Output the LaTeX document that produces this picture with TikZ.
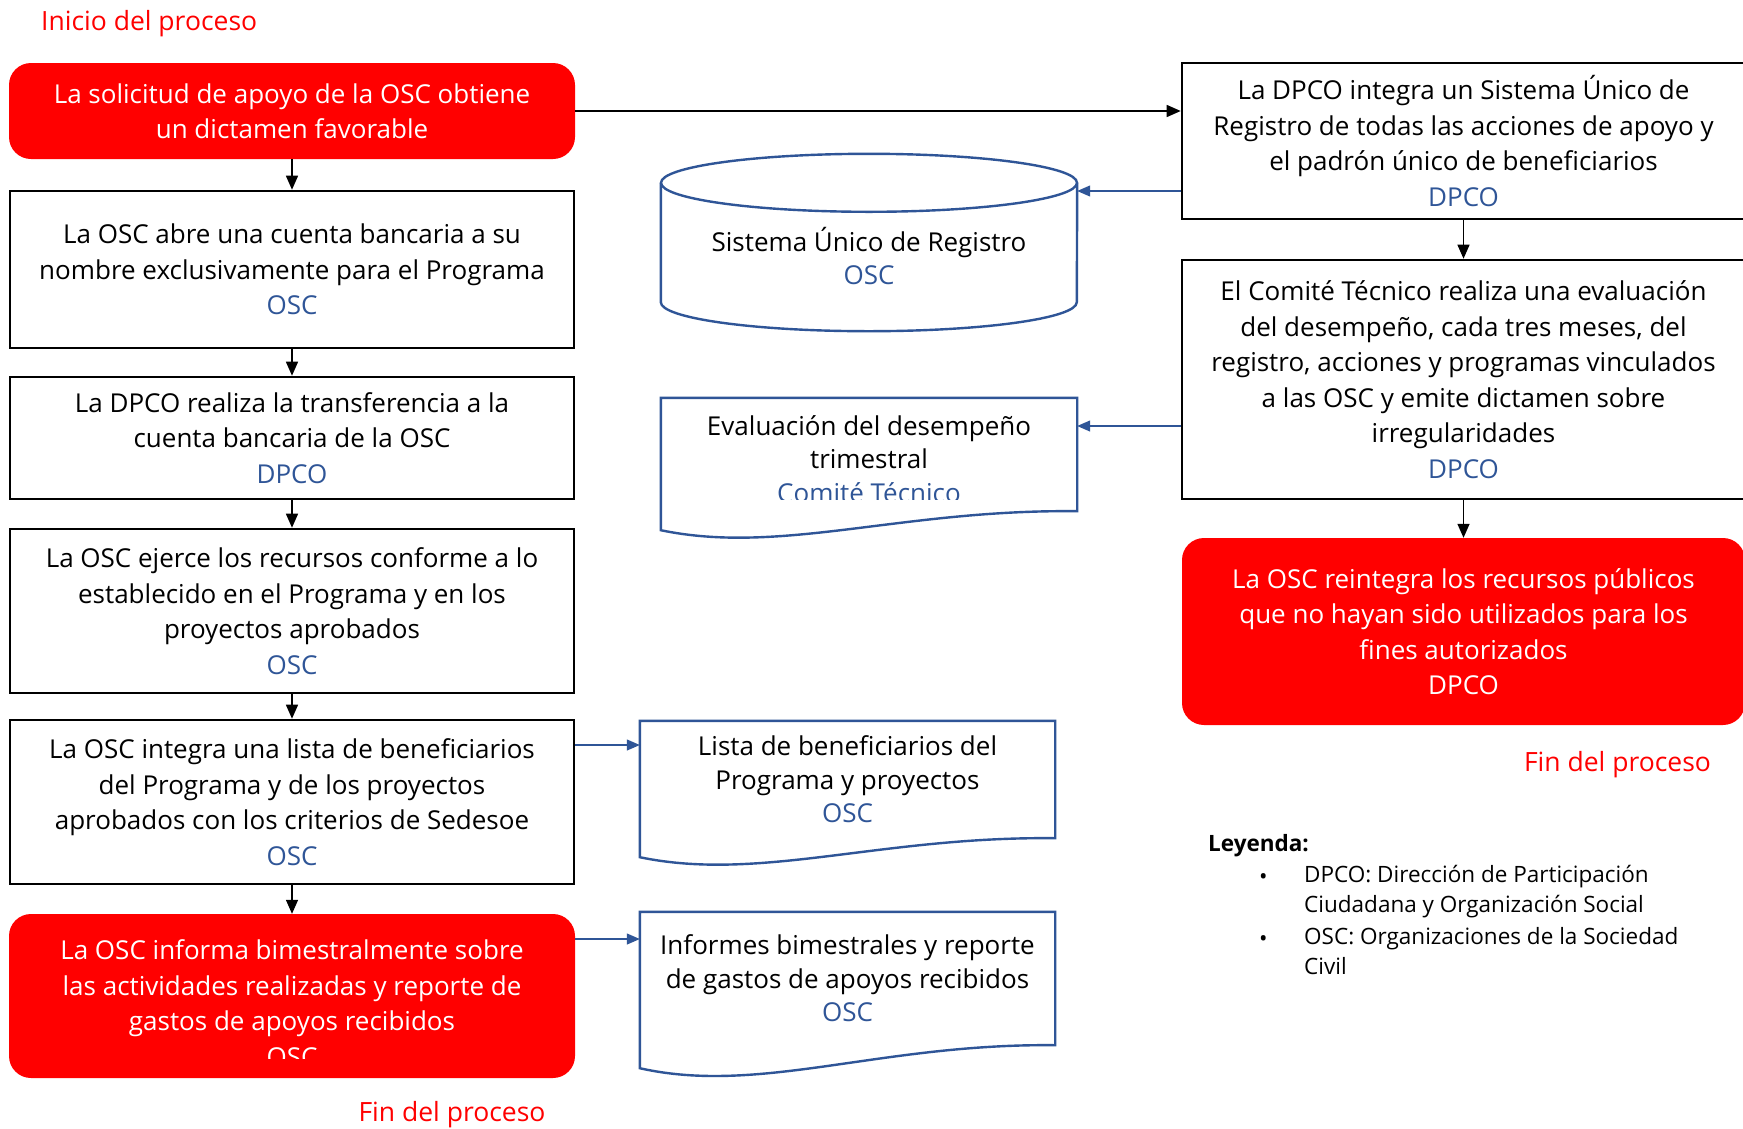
\documentclass[tikz,border=0pt]{standalone}
\usepackage{fontspec}
\setmainfont{Open Sans}
\usetikzlibrary{arrows.meta,calc}
\definecolor{ored}{RGB}{255,0,0}
\definecolor{oblue}{RGB}{47,85,151}
\begin{document}
\begin{tikzpicture}[x=1pt,y=-1pt,
  txt/.style={font=\fontsize{26}{35.5}\selectfont, align=center, inner sep=0pt},
  doctxt/.style={font=\fontsize{26}{33.5}\selectfont, align=center, inner sep=0pt},
  box/.style={txt, draw=black, line width=2.6pt},
  redbox/.style={txt, fill=ored, text=white, rounded corners=22pt},
  ghost/.style={inner sep=0pt},
  shp/.style={draw=oblue, line width=2.4pt, line join=miter},
  darr/.style={-{Triangle[length=14pt,width=12pt]}, line width=1.4pt, black},
  barr/.style={-{Triangle[length=13pt,width=11pt]}, line width=1.2pt, oblue},
  lbl/.style={font=\fontsize{26.5}{30}\selectfont, text=ored, inner sep=0pt},
  legtxt/.style={font=\fontsize{22.5}{30.5}\selectfont, align=left, inner sep=0pt}
]
\useasboundingbox (0,0) rectangle (1743,1128);
\fill[white] (0,0) rectangle (1743,1128);

% ---------- left column ----------
\node[lbl, anchor=west] (start) at (41,24) {Inicio del proceso};
\node[redbox, minimum width=566pt, minimum height=96pt] (b1) at (292,111)
  {La solicitud de apoyo de la OSC obtiene\\un dictamen favorable};
\node[box, minimum width=564pt, minimum height=157pt] (b2) at (292,269.5)
  {La OSC abre una cuenta bancaria a su\\nombre exclusivamente para el Programa\\\textcolor{oblue}{OSC}};
\node[box, minimum width=564pt, minimum height=122pt] (b3) at (292,438)
  {La DPCO realiza la transferencia a la\\cuenta bancaria de la OSC\\\textcolor{oblue}{DPCO}};
\node[box, minimum width=564pt, minimum height=164pt] (b4) at (292,611)
  {La OSC ejerce los recursos conforme a lo\\establecido en el Programa y en los\\proyectos aprobados\\\textcolor{oblue}{OSC}};
\node[box, minimum width=564pt, minimum height=164pt] (b5) at (292,802)
  {La OSC integra una lista de beneficiarios\\del Programa y de los proyectos\\aprobados con los criterios de Sedesoe\\\textcolor{oblue}{OSC}};
\node[redbox, minimum width=566pt, minimum height=164pt] (b6) at (292,996) {};
\begin{scope}
  \clip (b6.north west) rectangle ($(b6.south east)+(0,-20)$);
  \node[txt, text=white] (b6t) at ($(b6.center)+(0,7)$)
    {La OSC informa bimestralmente sobre\\las actividades realizadas y reporte de\\gastos de apoyos recibidos\\OSC};
\end{scope}
\node[lbl] (fin1) at (452,1115) {Fin del proceso};

\draw[darr] (b1.south) -- (b2.north);
\draw[darr] (b2.south) -- (b3.north);
\draw[darr] (b3.south) -- (b4.north);
\draw[darr] (b4.south) -- (b5.north);
\draw[darr] (b5.south) -- (b6.north);

% ---------- right column ----------
\node[box, minimum width=563pt, minimum height=156pt] (r1) at (1463.5,141)
  {La DPCO integra un Sistema Único de\\Registro de todas las acciones de apoyo y\\el padrón único de beneficiarios\\\textcolor{oblue}{DPCO}};
\node[box, minimum width=563pt, minimum height=239pt] (r2) at (1463.5,379.5)
  {El Comité Técnico realiza una evaluación\\del desempeño, cada tres meses, del\\registro, acciones y programas vinculados\\a las OSC y emite dictamen sobre\\irregularidades\\\textcolor{oblue}{DPCO}};
\node[redbox, minimum width=563pt, minimum height=187pt] (r3) at (1463.5,631.5)
  {La OSC reintegra los recursos públicos\\que no hayan sido utilizados para los\\fines autorizados\\DPCO};
\node[lbl] (fin2) at (1617.5,765) {Fin del proceso};

\draw[darr] (b1.east) -- (b1.east -| r1.west);
\draw[darr] (r1.south) -- (r2.north);
\draw[darr] (r2.south) -- (r3.north);

% ---------- cylinder ----------
\node[ghost, minimum width=416pt, minimum height=178pt] (cyl) at (869,242) {};
\draw[shp] ($(cyl.north)+(0,30)$) ellipse [x radius=208pt, y radius=29pt];
\draw[shp] ($(cyl.north west)+(0,30)$) -- ($(cyl.south west)+(0,-29)$)
  arc[start angle=180, end angle=360, x radius=208pt, y radius=29pt]
  -- ($(cyl.north east)+(0,30)$);
\node[doctxt] (cylt) at (869,256) {Sistema Único de Registro\\\textcolor{oblue}{OSC}};

% ---------- documents ----------
\node[ghost, minimum width=416pt, minimum height=113pt] (doc1) at (869,454.5) {};
\draw[shp] (doc1.north west) -- (doc1.north east) -- (doc1.south east)
  .. controls ($(doc1.south west)+(240,-2)$) and ($(doc1.south west)+(120,44)$) ..
  ($(doc1.south west)+(0,19)$) -- cycle;
\begin{scope}
  \clip (doc1.north west) rectangle ($(doc1.south east)+(0,-12)$);
  \node[doctxt] (doc1t) at ($(doc1.center)+(0,4.5)$)
    {Evaluación del desempeño\\trimestral\\\textcolor{oblue}{Comité Técnico}};
\end{scope}

\node[doctxt, minimum width=415pt, minimum height=117pt] (doc2) at (847.5,779.5)
  {Lista de beneficiarios del\\Programa y proyectos\\\textcolor{oblue}{OSC}};
\draw[shp] (doc2.north west) -- (doc2.north east) -- (doc2.south east)
  .. controls ($(doc2.south west)+(240,-2)$) and ($(doc2.south west)+(120,44)$) ..
  ($(doc2.south west)+(0,19)$) -- cycle;

\node[doctxt, minimum width=415pt, minimum height=133pt] (doc3) at (847.5,978.5)
  {Informes bimestrales y reporte\\de gastos de apoyos recibidos\\\textcolor{oblue}{OSC}};
\draw[shp] (doc3.north west) -- (doc3.north east) -- (doc3.south east)
  .. controls ($(doc3.south west)+(240,-2)$) and ($(doc3.south west)+(120,50)$) ..
  ($(doc3.south west)+(0,23)$) -- cycle;

% ---------- blue connectors ----------
\coordinate (p1) at ($(r1.west)+(0,50)$);
\draw[barr] (p1) -- (p1 -| cyl.east);
\coordinate (p2) at ($(r2.west)+(0,46.5)$);
\draw[barr] (p2) -- (p2 -| doc1.east);
\coordinate (p3) at ($(b5.east)+(0,-57)$);
\draw[barr] (p3) -- (p3 -| doc2.west);
\coordinate (p4) at ($(b6.east)+(0,-57)$);
\draw[barr] (p4) -- (p4 -| doc3.west);

% ---------- legend ----------
\node[legtxt, anchor=west, font=\fontsize{22.5}{30.5}\selectfont\bfseries] (leg) at (1208,846) {Leyenda:};
\node[legtxt, anchor=west] (bul1) at (1259,879) {•};
\node[legtxt, anchor=west] (bul2) at (1259,941) {•};
\node[legtxt, anchor=north west] (it1) at (1304,865) {DPCO: Dirección de Participación\\Ciudadana y Organización Social};
\node[legtxt, anchor=north west] (it2) at (1304,927) {OSC: Organizaciones de la Sociedad\\Civil};
\end{tikzpicture}
\end{document}
